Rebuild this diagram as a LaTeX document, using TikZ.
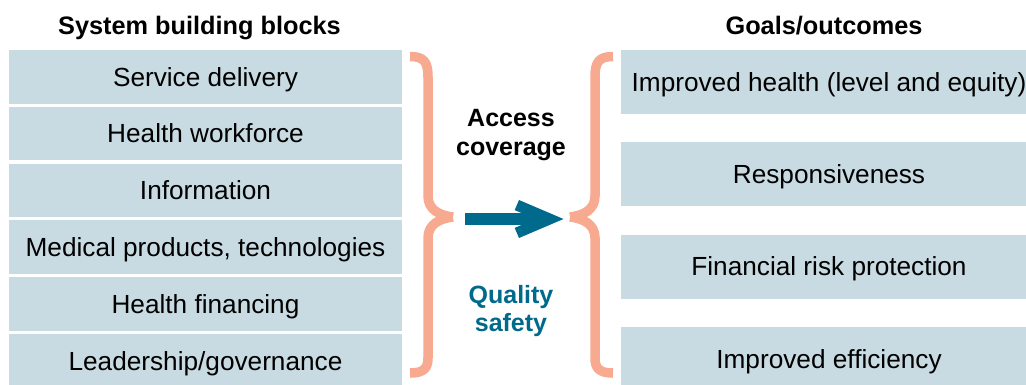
\documentclass[tikz,border=0pt]{standalone}
\usepackage{fontspec}
\setmainfont{Liberation Sans}
\definecolor{boxfill}{HTML}{C8DAE2}
\definecolor{bracecol}{HTML}{F8AA91}
\definecolor{tealc}{HTML}{006A8C}
\tikzset{
  lbox/.style={fill=boxfill, minimum width=393pt, minimum height=53.5pt, inner sep=0pt,
    font=\fontsize{26.2}{31}\selectfont, text height=18.8pt, text depth=0pt},
  rbox/.style={fill=boxfill, minimum width=416pt, minimum height=64pt, inner sep=0pt,
    font=\fontsize{26.2}{31}\selectfont, text height=18.8pt, text depth=0pt},
  head/.style={font=\fontsize{25.3}{30}\selectfont\bfseries, anchor=base, inner sep=0pt},
  midtxt/.style={font=\fontsize{25}{30}\selectfont\bfseries, anchor=base, inner sep=0pt},
  bracestroke/.style={draw=bracecol, line width=9.5pt, line cap=butt, line join=round},
}
\begin{document}
\begin{tikzpicture}[x=1pt,y=-1pt]
\clip (0,0) rectangle (1026,384);
\fill[white] (0,0) rectangle (1026,384);
% headers
\node[head] (hl) at (199.5,34.5) {System building blocks};
\node[head] (hr) at (824,34) {Goals/outcomes};
% left column
\node[lbox] (l1) at (205.5,76.75) {Service delivery};
\node[lbox] (l2) at (205.5,133.55) {Health workforce};
\node[lbox] (l3) at (205.5,190.35) {Information};
\node[lbox] (l4) at (205.5,247.15) {Medical products, technologies};
\node[lbox] (l5) at (205.5,303.95) {Health financing};
\node[lbox] (l6) at (205.5,360.75) {Leadership/governance};
% right column
\node[rbox] (r1) at (829,82) {Improved health (level and equity)};
\node[rbox] (r2) at (829,174.3) {Responsiveness};
\node[rbox] (r3) at (829,266.5) {Financial risk protection};
\node[rbox] (r4) at (829,358.8) {Improved efficiency};
% braces
\draw[bracestroke] (410,56.5) .. controls (424,56.5) and (428,62) .. (428,77) -- (428,196)
  .. controls (428,210) and (440,215.5) .. (453,217);
\draw[bracestroke] (453,217) .. controls (440,218.5) and (428,224) .. (428,238) -- (428,358)
  .. controls (428,368) and (424,373) .. (410,373);
\draw[bracestroke] (613,56.5) .. controls (599,56.5) and (595,62) .. (595,77) -- (595,196)
  .. controls (595,210) and (583,215.5) .. (570,217);
\draw[bracestroke] (570,217) .. controls (583,218.5) and (595,224) .. (595,238) -- (595,358)
  .. controls (595,368) and (599,373) .. (613,373);
% middle labels
\node[midtxt] (acc1) at (511,126.5) {Access};
\node[midtxt] (acc2) at (511,155) {coverage};
\node[midtxt, text=tealc] (q1) at (511,303) {Quality};
\node[midtxt, text=tealc] (q2) at (511,331) {safety};
% arrow
\coordinate (as) at (465,219);
\coordinate (ae) at (563.5,219);
\draw[tealc, line width=11.5pt] (as) -- ([xshift=-18pt]ae);
\fill[tealc] (ae) -- ++(-44.5,-19) -- ++(-4.3,10.1) -- ++(20.9,8.9) -- ++(-20.9,8.9) -- ++(4.3,10.1) -- cycle;
\end{tikzpicture}
\end{document}
